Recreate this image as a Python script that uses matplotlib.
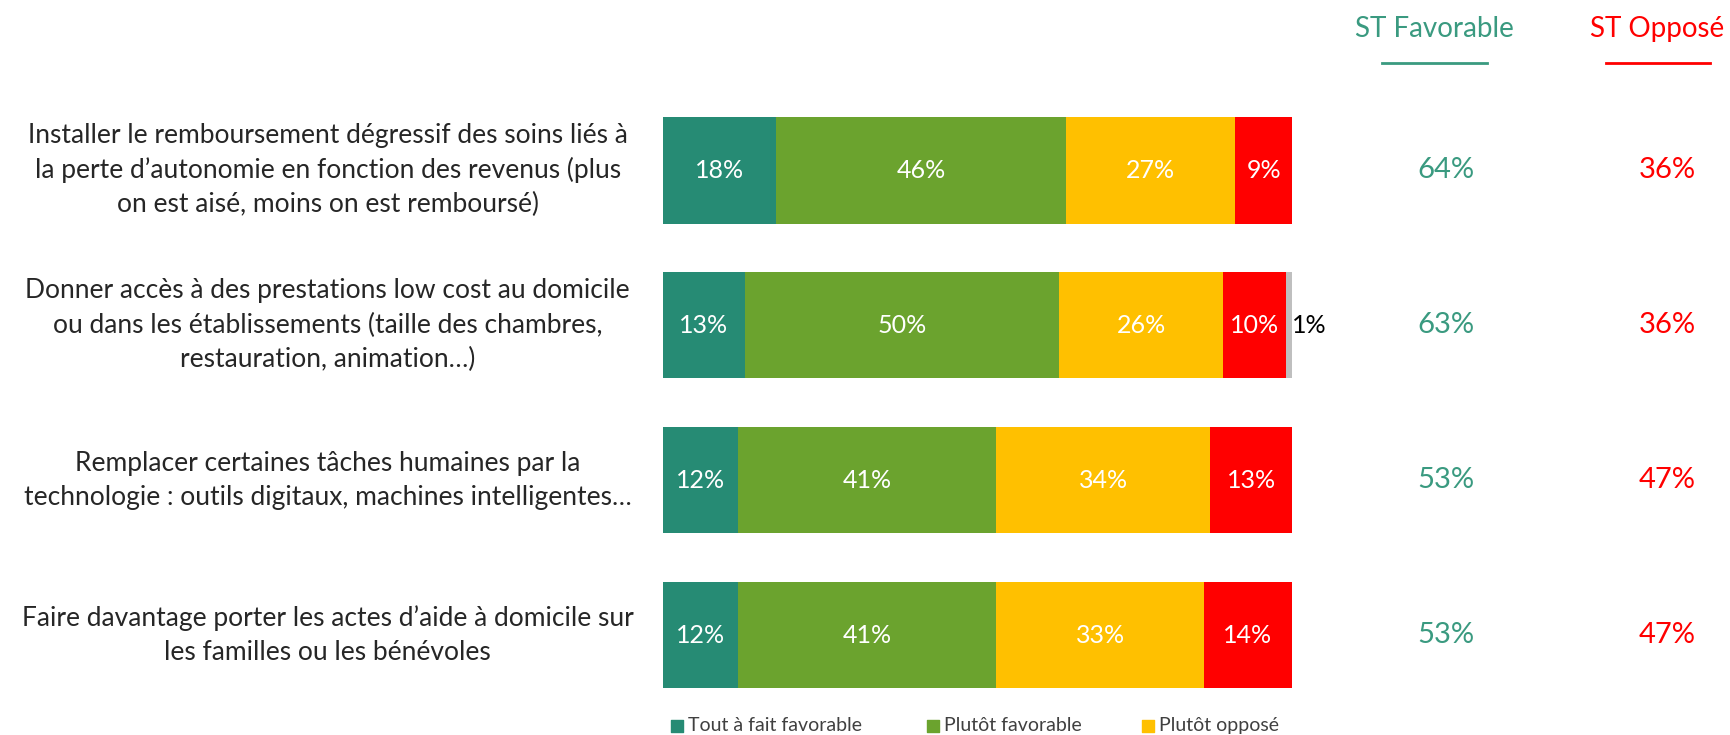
import matplotlib
matplotlib.use("Agg")
import matplotlib.pyplot as plt

plt.rcParams['font.family'] = ['Lato', 'DejaVu Sans']

items = [
    "Installer le remboursement dégressif des soins liés à\nla perte d’autonomie en fonction des revenus (plus\non est aisé, moins on est remboursé)",
    "Donner accès à des prestations low cost au domicile\nou dans les établissements (taille des chambres,\nrestauration, animation…)",
    "Remplacer certaines tâches humaines par la\ntechnologie : outils digitaux, machines intelligentes…",
    "Faire davantage porter les actes d’aide à domicile sur\nles familles ou les bénévoles",
]
tout_fav = [18, 13, 12, 12]
plutot_fav = [46, 50, 41, 41]
plutot_opp = [27, 26, 34, 33]
tout_opp = [9, 10, 13, 14]
nsp = [0, 1, 0, 0]
st_fav = [64, 63, 53, 53]
st_opp = [36, 36, 47, 47]

series = [
    ("Tout à fait favorable", tout_fav, "#268B74"),
    ("Plutôt favorable", plutot_fav, "#6BA32E"),
    ("Plutôt opposé", plutot_opp, "#FFC000"),
    ("Tout à fait opposé", tout_opp, "#FF0000"),
    ("NSP", nsp, "#BFBFBF"),
]

fig = plt.figure(figsize=(17.31, 7.35), dpi=100)
ax = fig.add_axes([0.383, 0.0306, 0.3634, 0.8435])

y = list(range(len(items)))
left = [0] * len(items)
for name, vals, col in series:
    ax.barh(y, vals, left=left, color=col, height=0.69, label=name)
    for i, v in enumerate(vals):
        if v == 0:
            continue
        if name == "NSP":
            ax.text(left[i] + v + 2.8, i, f"{v}%", ha='center', va='center',
                    fontsize=18, color='black')
        else:
            ax.text(left[i] + v / 2, i, f"{v}%", ha='center', va='center',
                    fontsize=18, color='white')
    left = [l + v for l, v in zip(left, vals)]

ax.set_xlim(0, 100)
ax.set_ylim(3.5, -0.5)
ax.axis('off')

# question labels
for i, lab in enumerate(items):
    ax.text(-53.3, i, lab, ha='center', va='center', fontsize=19,
            color='#262626', linespacing=1.45, clip_on=False)

# ST columns
teal = "#3A9A80"
ax.text(122.6, -0.91, "ST Favorable", ha='center', va='center', fontsize=20, color=teal, clip_on=False)
ax.text(158.0, -0.91, "ST Opposé", ha='center', va='center', fontsize=20, color='#FF0000', clip_on=False)
ax.plot([114.3, 131.0], [-0.69, -0.69], color=teal, lw=2, clip_on=False)
ax.plot([149.9, 166.5], [-0.69, -0.69], color='#FF0000', lw=2, clip_on=False)
for i in y:
    ax.text(124.5, i, f"{st_fav[i]}%", ha='center', va='center', fontsize=21, color=teal, clip_on=False)
    ax.text(159.6, i, f"{st_opp[i]}%", ha='center', va='center', fontsize=21, color='#FF0000', clip_on=False)

# legend (bottom, cut by the frame)
leg_x = [2.2, 42.9, 77.1]
for (name, vals, col), lx in zip(series[:3], leg_x):
    ax.scatter([lx], [3.585], marker='s', s=80, color=col, clip_on=False)
    ax.text(lx + 1.7, 3.585, name, ha='left', va='center', fontsize=14, color='#404040', clip_on=False)

fig.savefig("out.png", dpi=100)
